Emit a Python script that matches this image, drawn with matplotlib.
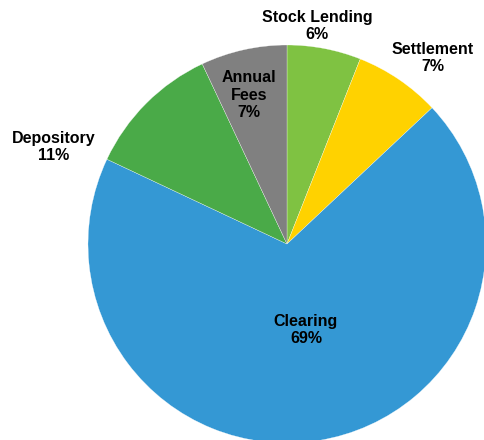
import matplotlib
matplotlib.use("Agg")
import matplotlib.pyplot as plt

# Revenue split by business line
categories = ["Stock Lending", "Settlement", "Clearing", "Depository", "Annual\nFees"]
shares = [6, 7, 69, 11, 7]
colors = ["#7fc242", "#ffd200", "#3498d4", "#4aaa48", "#808080"]

W, H = 485, 440
fig = plt.figure(figsize=(W / 100, H / 100), dpi=100)
ax = fig.add_axes([0, 0, 1, 1])

cx, cy, r = 287, H - 244, 199
ax.pie(shares, colors=colors, startangle=90, counterclock=False,
       center=(cx, cy), radius=r, frame=True,
       wedgeprops=dict(edgecolor="white", linewidth=0.2))
ax.set_xlim(0, W)
ax.set_ylim(0, H)
ax.set_aspect("equal")
ax.axis("off")

# label anchor points (pixels from top-left)
label_pos = [(317, 26), (433, 58), (306, 330), (54, 147), (249, 95)]
for name, val, (x, y) in zip(categories, shares, label_pos):
    ax.text(x, H - y, f"{name}\n{val}%", ha="center", va="center",
            fontsize=11.5, fontweight="bold", family="Liberation Sans",
            linespacing=1.2, color="black")

fig.savefig("out.png", dpi=100)
